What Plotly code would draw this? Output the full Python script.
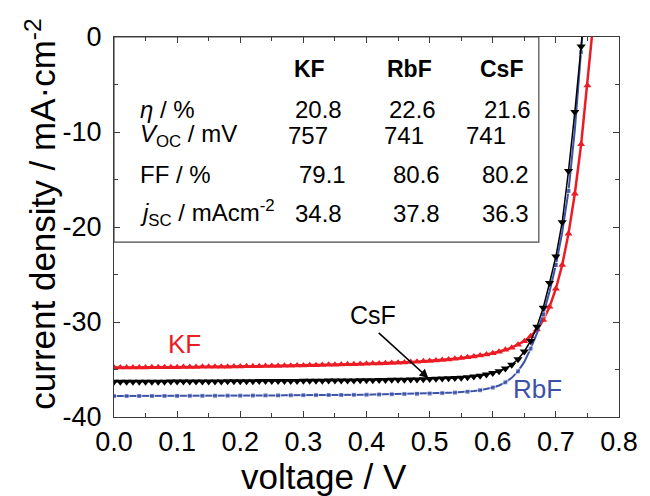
import plotly.graph_objects as go

# ---------------- data ----------------
voltage = [round(0.01 * i, 2) for i in range(77)]  # 0.00 ... 0.76 V

kf_j = [-34.80, -34.80, -34.79, -34.79, -34.78, -34.78, -34.77, -34.77, -34.76, -34.76,
        -34.75, -34.74, -34.74, -34.73, -34.72, -34.72, -34.71, -34.70, -34.70, -34.69,
        -34.68, -34.67, -34.66, -34.65, -34.64, -34.63, -34.62, -34.61, -34.60, -34.58,
        -34.57, -34.56, -34.54, -34.53, -34.51, -34.50, -34.48, -34.46, -34.44, -34.42,
        -34.40, -34.38, -34.36, -34.33, -34.31, -34.28, -34.25, -34.22, -34.18, -34.14,
        -34.10, -34.05, -34.00, -33.94, -33.87, -33.80, -33.72, -33.63, -33.53, -33.41,
        -33.28, -33.12, -32.93, -32.70, -32.40, -32.02, -31.50, -30.80, -29.80, -28.40,
        -26.50, -24.00, -20.70, -16.50, -11.30, -5.10, 2.00]

csf_j = [-36.30, -36.30, -36.30, -36.29, -36.29, -36.29, -36.28, -36.28, -36.28, -36.27,
         -36.27, -36.27, -36.26, -36.26, -36.26, -36.25, -36.25, -36.25, -36.24, -36.24,
         -36.24, -36.23, -36.23, -36.22, -36.22, -36.22, -36.21, -36.21, -36.20, -36.20,
         -36.19, -36.19, -36.18, -36.18, -36.17, -36.17, -36.16, -36.15, -36.15, -36.14,
         -36.13, -36.12, -36.11, -36.10, -36.09, -36.08, -36.07, -36.05, -36.04, -36.02,
         -36.00, -35.98, -35.96, -35.93, -35.90, -35.86, -35.81, -35.74, -35.65, -35.53,
         -35.38, -35.18, -34.90, -34.50, -33.92, -33.10, -32.00, -30.50, -28.50, -25.90,
         -23.10, -19.50, -14.10, -7.90, -1.00, 6.00]

rbf_j = [-37.80, -37.80, -37.80, -37.79, -37.79, -37.79, -37.79, -37.78, -37.78, -37.78,
         -37.78, -37.77, -37.77, -37.77, -37.77, -37.76, -37.76, -37.76, -37.75, -37.75,
         -37.75, -37.74, -37.74, -37.74, -37.73, -37.73, -37.73, -37.72, -37.72, -37.71,
         -37.71, -37.70, -37.70, -37.69, -37.69, -37.68, -37.68, -37.67, -37.66, -37.66,
         -37.65, -37.64, -37.63, -37.62, -37.61, -37.60, -37.59, -37.58, -37.56, -37.55,
         -37.53, -37.51, -37.49, -37.46, -37.43, -37.39, -37.34, -37.27, -37.18, -37.06,
         -36.90, -36.68, -36.35, -35.88, -35.20, -34.20, -32.80, -31.20, -29.20, -26.80,
         -24.00, -20.60, -16.20, -9.80, -1.60, 7.00]

x_ticks = [0.0, 0.1, 0.2, 0.3, 0.4, 0.5, 0.6, 0.7, 0.8]
y_ticks = [-40, -30, -20, -10, 0]
y_tick_text = ["-40", "-30", "-20", "-10", "0"]

table_cols = ["KF", "RbF", "CsF"]
table_rows = ["<i>η</i> / %", "<i>V</i><sub>OC</sub> / mV", "FF / %",
              "<i>j</i><sub>SC</sub> / mAcm<sup>-2</sup>"]
eta = ["20.8", "22.6", "21.6"]
voc = ["757", "741", "741"]
ff = ["79.1", "80.6", "80.2"]
jsc = ["34.8", "37.8", "36.3"]

# ---------------- style ----------------
RED = "#ec1c24"
BLUE = "#3b52a8"
BLACK = "#000000"
FRAME = "#3a3a3a"
FONT = "Liberation Sans, Arial, sans-serif"

fig = go.Figure()

n_csf = len(csf_j)
n_rbf = len(rbf_j)
n_kf = len(kf_j)

fig.add_trace(go.Scatter(
    x=voltage[:n_kf], y=kf_j, mode="lines+markers", name="KF",
    line=dict(color=RED, width=2.5),
    marker=dict(symbol="triangle-up", size=7, color=RED),
))
fig.add_trace(go.Scatter(
    x=voltage[:n_rbf], y=rbf_j, mode="lines+markers", name="RbF",
    line=dict(color=BLUE, width=2),
    marker=dict(symbol="square", color=BLUE,
                size=[5 if i % 2 == 0 else 0 for i in range(n_rbf)]),
))
fig.add_trace(go.Scatter(
    x=voltage[:n_csf], y=csf_j, mode="lines+markers", name="CsF",
    line=dict(color=BLACK, width=1.5),
    marker=dict(symbol="triangle-down", size=8, color=BLACK),
))

# inset table box
fig.add_shape(type="rect", xref="x", yref="y", x0=0, x1=0.673, y0=-21.6, y1=0,
              line=dict(color="#4a4a4a", width=1.2), fillcolor="white", layer="below")

ann = []
# table header
for name, xc in zip(table_cols, [0.310, 0.468, 0.6146]):
    ann.append(dict(x=xc, y=-3.37, text="<b>" + name + "</b>", xanchor="center",
                    yanchor="middle", font=dict(size=23)))
# row labels
row_y = [-7.63, -10.42, -14.5, -18.56]
for lab, yy in zip(table_rows, row_y):
    ann.append(dict(x=0.038, y=yy, text=lab, xanchor="left", yanchor="middle",
                    font=dict(size=24)))
# values
val_x = [[0.3244, 0.4722, 0.6238],
         [0.3075, 0.4590, 0.5898],
         [0.3310, 0.4785, 0.6196],
         [0.3244, 0.4785, 0.6196]]
for vals, xs, yy in zip([eta, voc, ff, jsc], val_x, row_y):
    for v, xc in zip(vals, xs):
        ann.append(dict(x=xc, y=yy, text=v, xanchor="center", yanchor="middle",
                        font=dict(size=24)))

# curve labels
ann.append(dict(x=0.112, y=-32.3, text="KF", font=dict(size=26, color=RED)))
ann.append(dict(x=0.41, y=-29.3, text="CsF", font=dict(size=25, color=BLACK)))
ann.append(dict(x=0.671, y=-37.05, text="RbF", font=dict(size=26, color=BLUE)))
# arrow to CsF curve
ann.append(dict(x=0.498, y=-35.9, ax=0.417, ay=-31.0, axref="x", ayref="y",
                text="", showarrow=True, arrowhead=2, arrowsize=1.1,
                arrowwidth=1.6, arrowcolor=BLACK))

for a in ann:
    a.setdefault("xref", "x")
    a.setdefault("yref", "y")
    a.setdefault("showarrow", False)

# axis titles
ann.append(dict(xref="paper", yref="paper", x=(326 - 114) / 510, y=(417 - 476) / 380,
                text="voltage / V", showarrow=False, xanchor="center", yanchor="middle",
                font=dict(size=35)))
ann.append(dict(xref="paper", yref="paper", x=(40 - 114) / 510, y=(417 - 214) / 380,
                text="current density / mA·cm<sup>-2</sup>", textangle=-90,
                showarrow=False, xanchor="center", yanchor="middle",
                font=dict(size=35)))

fig.update_layout(
    width=650, height=496,
    margin=dict(l=114, r=26, t=37, b=79),
    paper_bgcolor="white", plot_bgcolor="white",
    showlegend=False,
    font=dict(family=FONT, color="black", size=24),
    annotations=ann,
)

axis_common = dict(
    showgrid=False, zeroline=False, showline=True, linecolor=FRAME, linewidth=1.3,
    mirror="ticks", ticks="inside", ticklen=6, tickwidth=1.2, tickcolor=FRAME,
    tickfont=dict(size=27, family=FONT, color="black"),
)

fig.update_xaxes(range=[0, 0.8], tickvals=x_ticks, tickformat=".1f",
                 minor=dict(dtick=0.05, ticks="inside", ticklen=4, tickcolor=FRAME),
                 ticklabelstandoff=0, **axis_common)
fig.update_yaxes(range=[-40, 0], tickvals=y_ticks, ticktext=y_tick_text,
                 minor=dict(dtick=5, ticks="inside", ticklen=4, tickcolor=FRAME),
                 ticklabelstandoff=6, **axis_common)

fig.write_html("out.html",
               config={"displayModeBar": False},
               post_script="document.body.style.margin='0';"
                           "document.body.style.overflow='hidden';")
